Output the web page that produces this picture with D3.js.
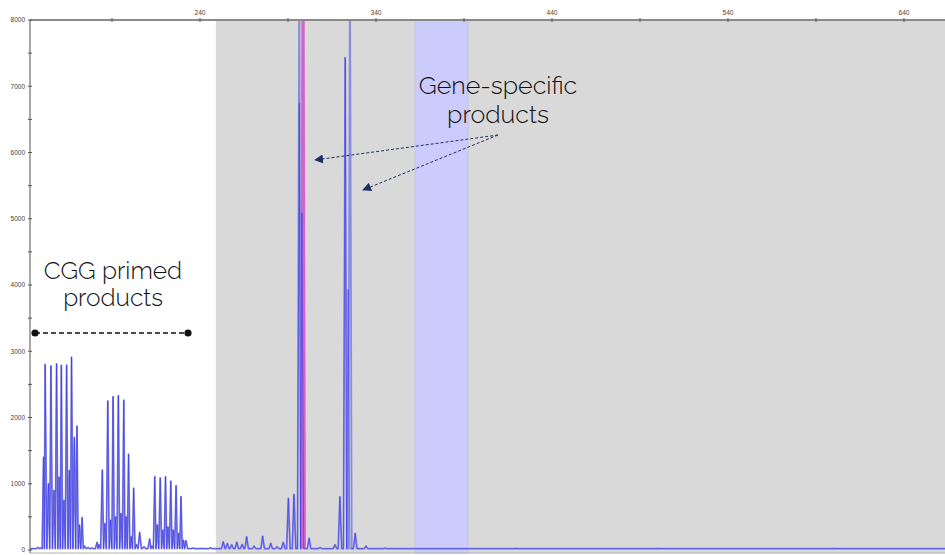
<!DOCTYPE html>
<html>
<head>
<meta charset="utf-8">
<script src="https://cdn.jsdelivr.net/npm/d3@7"></script>
<style>
  body { margin: 0; background: #fff; }
  svg { display: block; }
</style>
</head>
<body>
<svg id="chart" width="945" height="555"></svg>
<script>
// axis values
const xTicks = [190, 240, 290, 340, 390, 440, 490, 540, 590, 640]
const xLabels = [240, 340, 440, 540, 640]
const yTicks = d3.range(0, 8001, 500)
const yLabels = d3.range(0, 8001, 1000)

// shaded regions (bp)
const shadeRange = [249, 663.3]
const binRange = [362.2, 392.3]

// CGG repeat primed peaks [bp, height]
const cggPeaks = [
  [148, 40], [149.5, 30],
  [151.1, 1400], [152.0, 2800], [153.9, 1000], [155.3, 2780], [157.0, 900],
  [158.5, 2810], [160.0, 1100], [161.2, 2790], [162.7, 750], [164.2, 2790],
  [165.8, 1200], [167.0, 2910], [168.6, 1700], [170.1, 1870], [171.5, 380],
  [173.0, 490], [174.4, 60], [176.4, 40], [178.6, 30], [181.5, 116],
  [182.6, 80], [184.5, 1208], [185.9, 400], [187.6, 2250], [189.2, 450],
  [190.6, 2316], [192.0, 500], [193.6, 2331], [195.1, 550], [196.7, 2261],
  [198.0, 500], [199.4, 1445], [200.9, 200], [202.3, 932], [203.9, 80],
  [205.7, 267], [208.2, 50], [211.4, 166],
  [212.7, 60], [214.3, 1107], [215.7, 380], [217.4, 1090], [218.9, 300],
  [220.4, 1107], [221.8, 350], [223.4, 1040], [224.8, 300], [226.4, 971],
  [227.8, 250], [229.2, 805], [230.6, 150], [232.0, 141]
]

// small peaks in the gene-specific window
const noisePeaks = [
  [236, 30], [241, 25], [246, 35],
  [253.2, 125], [255.5, 100], [258.0, 80], [260.9, 120], [263.9, 85],
  [266.5, 200], [270.7, 60], [275.6, 211], [280.2, 100], [283.8, 50],
  [287.3, 116], [290.2, 780], [293.4, 841], [302.0, 177],
  [308.2, 40], [316.7, 80], [319.5, 805], [328.2, 252], [334.3, 60],
  [345, 30], [420, 25], [500, 25], [600, 25]
]

// gene-specific products
const geneLight = [[296.4, 9000], [298.2, 9000], [322.5, 7430], [325.2, 9000]]
const geneDark = [[296.4, 6750], [297.9, 5090], [322.5, 7430], [324.1, 3930]]
const genePink = [[298.7, 9000]]

const plot = { left: 30, top: 20, right: 945, bottom: 553 }

const x = d3.scaleLinear().domain([143.4, 663.3]).range([plot.left, plot.right])
const y = d3.scaleLinear().domain([0, 8000]).range([550, plot.top])

const svg = d3.select('#chart')

svg.append('defs').append('clipPath').attr('id', 'clip')
  .append('rect')
    .attr('x', plot.left).attr('y', plot.top)
    .attr('width', plot.right - plot.left).attr('height', plot.bottom - plot.top)

let marker = svg.select('defs').append('marker')
  .attr('id', 'arrow')
  .attr('viewBox', '0 0 10 10')
  .attr('refX', 9).attr('refY', 5)
  .attr('markerWidth', 9).attr('markerHeight', 9)
  .attr('markerUnits', 'userSpaceOnUse')
  .attr('orient', 'auto')
marker.append('path').attr('d', 'M0,0 L10,5 L0,10 Z').attr('fill', '#1d2f63')

// backgrounds
svg.append('rect')
  .attr('x', x(shadeRange[0])).attr('y', plot.top)
  .attr('width', x(shadeRange[1]) - x(shadeRange[0]))
  .attr('height', plot.bottom - plot.top)
  .attr('fill', '#d9d9d9')

svg.append('rect')
  .attr('x', x(binRange[0])).attr('y', plot.top)
  .attr('width', x(binRange[1]) - x(binRange[0]))
  .attr('height', plot.bottom - plot.top)
  .attr('fill', '#cbcbfc')
  .attr('stroke', '#c4c4e6')
  .attr('stroke-width', 1)

// build trace points from peak list
let tracePoints = (peaks, hw = 1.0, base = 20, full = true) => {
  let p = peaks.slice().sort((a, b) => a[0] - b[0])
  let pts = full ? [[x.domain()[0], base]] : []
  p.forEach((d, i) => {
    let prev = p[i - 1], next = p[i + 1]
    if (!prev || d[0] - prev[0] > 2 * hw) pts.push([d[0] - hw, base])
    else pts.push([(d[0] + prev[0]) / 2, base])
    pts.push(d)
    if (!next || next[0] - d[0] > 2 * hw) pts.push([d[0] + hw, base])
  })
  if (full) pts.push([x.domain()[1], base])
  return pts
}

let line = d3.line().x(d => x(d[0])).y(d => y(d[1]))

let traces = svg.append('g').attr('clip-path', 'url(#clip)')

traces.append('path')
  .attr('d', line(tracePoints(cggPeaks.concat(noisePeaks, geneLight))))
  .attr('fill', 'none')
  .attr('stroke', '#8a8ade')
  .attr('stroke-width', 1.8)
  .attr('stroke-linejoin', 'round')

traces.append('path')
  .attr('d', line(tracePoints(genePink, 0.8, 20, false)))
  .attr('fill', 'none')
  .attr('stroke', '#d462c8')
  .attr('stroke-width', 2.4)

traces.append('path')
  .attr('d', line(tracePoints(cggPeaks.concat(noisePeaks, geneDark))))
  .attr('fill', 'none')
  .attr('stroke', '#2a2aee')
  .attr('stroke-width', 0.7)
  .attr('stroke-opacity', 0.75)

// axes
svg.append('line')
  .attr('x1', plot.left).attr('x2', plot.right)
  .attr('y1', plot.top).attr('y2', plot.top)
  .attr('stroke', '#8a8a8a').attr('stroke-width', 2)

svg.append('line')
  .attr('x1', plot.left).attr('x2', plot.right)
  .attr('y1', plot.bottom).attr('y2', plot.bottom)
  .attr('stroke', '#b0b0b0').attr('stroke-width', 1)

svg.append('line')
  .attr('x1', plot.left).attr('x2', plot.left)
  .attr('y1', plot.top).attr('y2', plot.bottom)
  .attr('stroke', '#6f6f6f').attr('stroke-width', 1.2)

svg.append('g').selectAll('line').data(xTicks).enter().append('line')
  .attr('x1', d => x(d)).attr('x2', d => x(d))
  .attr('y1', plot.top - 2).attr('y2', plot.top + 2)
  .attr('stroke', '#555').attr('stroke-width', 1)

svg.append('g').selectAll('text').data(xLabels).enter().append('text')
  .attr('x', d => x(d)).attr('y', 15)
  .attr('text-anchor', 'middle')
  .attr('font-family', 'Arial, "Liberation Sans", sans-serif')
  .attr('font-size', 6.5)
  .attr('fill', '#444')
  .text(d => d)

svg.append('g').selectAll('line').data(yTicks).enter().append('line')
  .attr('x1', plot.left - 2).attr('x2', plot.left + 2)
  .attr('y1', d => y(d)).attr('y2', d => y(d))
  .attr('stroke', '#555').attr('stroke-width', 1)

svg.append('g').selectAll('text').data(yLabels).enter().append('text')
  .attr('x', 25).attr('y', d => y(d) + 2.3)
  .attr('text-anchor', 'end')
  .attr('font-family', 'Arial, "Liberation Sans", sans-serif')
  .attr('font-size', 6.5)
  .attr('fill', '#444')
  .text(d => d)

// annotations
let labelFont = 'Raleway, Lato, "Open Sans", sans-serif'

let cgg = svg.append('text')
  .attr('text-anchor', 'middle')
  .attr('font-family', labelFont).attr('font-weight', 300)
  .attr('font-size', 24.5).attr('fill', '#111')
cgg.append('tspan').attr('x', 113).attr('y', 279).text('CGG primed')
cgg.append('tspan').attr('x', 113).attr('y', 306).text('products')

svg.append('line')
  .attr('x1', 35).attr('x2', 188)
  .attr('y1', 333).attr('y2', 333)
  .attr('stroke', '#111').attr('stroke-width', 1.6)
  .attr('stroke-dasharray', '5,3')

svg.selectAll('circle.end').data([35, 188]).enter().append('circle')
  .attr('class', 'end')
  .attr('cx', d => d).attr('cy', 333).attr('r', 3.6)
  .attr('fill', '#111')

let gene = svg.append('text')
  .attr('text-anchor', 'middle')
  .attr('font-family', labelFont).attr('font-weight', 300)
  .attr('font-size', 25).attr('fill', '#111')
gene.append('tspan').attr('x', 498).attr('y', 94).text('Gene-specific')
gene.append('tspan').attr('x', 498).attr('y', 123).text('products')

svg.selectAll('line.arrow').data([[315, 160], [363, 190]]).enter().append('line')
  .attr('class', 'arrow')
  .attr('x1', 498).attr('y1', 135)
  .attr('x2', d => d[0]).attr('y2', d => d[1])
  .attr('stroke', '#1d2f63').attr('stroke-width', 1)
  .attr('stroke-dasharray', '3,2')
  .attr('marker-end', 'url(#arrow)')
</script>
</body>
</html>
